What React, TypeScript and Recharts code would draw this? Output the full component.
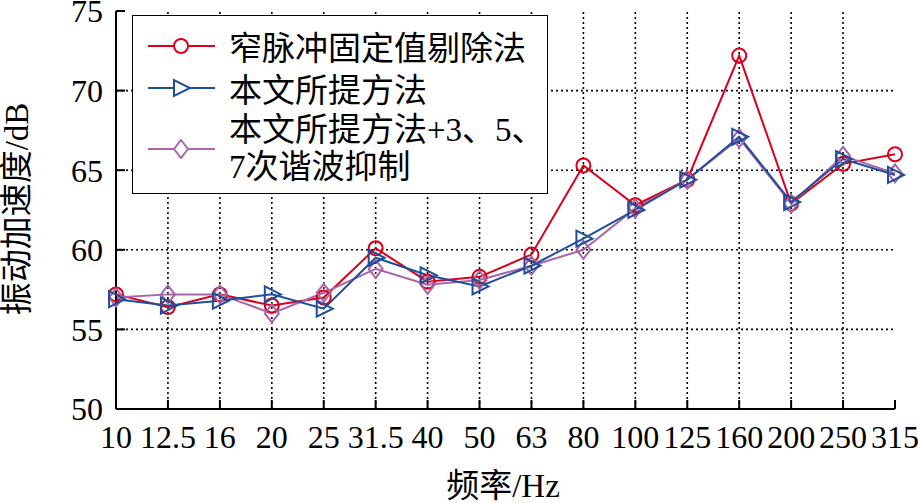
import { LineChart, Line, XAxis, YAxis, ReferenceLine, Label } from "recharts";

const categories = ["10", "12.5", "16", "20", "25", "31.5", "40", "50", "63", "80", "100", "125", "160", "200", "250", "315"];
const narrowPulse = [57.2, 56.4, 57.2, 56.5, 57.0, 60.1, 58.0, 58.3, 59.7, 65.3, 62.8, 64.4, 72.2, 62.9, 65.4, 66.0];
const proposed = [56.9, 56.5, 56.8, 57.2, 56.3, 59.5, 58.4, 57.7, 59.0, 60.7, 62.5, 64.4, 67.1, 63.0, 65.7, 64.7];
const proposedHarmonic = [57.0, 57.2, 57.2, 56.0, 57.3, 58.8, 57.8, 58.1, 59.0, 60.0, 62.6, 64.4, 67.0, 62.9, 65.9, 64.8];
const yTicks = [50, 55, 60, 65, 70, 75];

const RED = "#d9001b";
const BLUE = "#1f4e9c";
const PURPLE = "#a866a8";
const FONT = "'Liberation Serif', 'Times New Roman', 'Noto Sans CJK SC', serif";

const data = categories.map((f, i) => ({
  f,
  narrow: narrowPulse[i],
  proposed: proposed[i],
  harmonic: proposedHarmonic[i],
}));

function CircleDot({ cx, cy }: any) {
  if (cx == null || cy == null) return null;
  return <circle cx={cx} cy={cy} r={7} fill="none" stroke={RED} strokeWidth={2} />;
}

function TriangleDot({ cx, cy }: any) {
  if (cx == null || cy == null) return null;
  return (
    <polygon
      points={`${cx - 7},${cy - 8} ${cx - 7},${cy + 8} ${cx + 9},${cy}`}
      fill="none"
      stroke={BLUE}
      strokeWidth={2}
    />
  );
}

function DiamondDot({ cx, cy }: any) {
  if (cx == null || cy == null) return null;
  return (
    <polygon
      points={`${cx},${cy - 9} ${cx + 7},${cy} ${cx},${cy + 9} ${cx - 7},${cy}`}
      fill="none"
      stroke={PURPLE}
      strokeWidth={2}
    />
  );
}

function LegendMark({ color, kind }: { color: string; kind: string }) {
  const cx = 33;
  const cy = 10;
  return (
    <svg width={68} height={20} style={{ display: "block" }}>
      <line x1={0} y1={cy} x2={67} y2={cy} stroke={color} strokeWidth={2} />
      {kind === "circle" && <circle cx={cx} cy={cy} r={7} fill="white" stroke={color} strokeWidth={2} />}
      {kind === "triangle" && (
        <polygon points={`${cx - 7},${cy - 8} ${cx - 7},${cy + 8} ${cx + 9},${cy}`} fill="white" stroke={color} strokeWidth={2} />
      )}
      {kind === "diamond" && (
        <polygon points={`${cx},${cy - 9} ${cx + 7},${cy} ${cx},${cy + 9} ${cx - 7},${cy}`} fill="white" stroke={color} strokeWidth={2} />
      )}
    </svg>
  );
}

function LegendBox() {
  const row = { display: "flex", alignItems: "center", height: 42 } as const;
  const mark = { marginLeft: 15, marginRight: 13 };
  return (
    <div
      style={{
        position: "absolute",
        left: 132,
        top: 15,
        width: 414,
        height: 168,
        border: "1.5px solid #000",
        background: "#fff",
        fontFamily: FONT,
        fontSize: 33,
        color: "#000",
        paddingTop: 9,
      }}
    >
      <div style={row}>
        <div style={mark}><LegendMark color={RED} kind="circle" /></div>
        <span>窄脉冲固定值剔除法</span>
      </div>
      <div style={row}>
        <div style={mark}><LegendMark color={BLUE} kind="triangle" /></div>
        <span>本文所提方法</span>
      </div>
      <div style={{ display: "flex", alignItems: "center", height: 80 }}>
        <div style={mark}><LegendMark color={PURPLE} kind="diamond" /></div>
        <span style={{ lineHeight: "37px" }}>
          本文所提方法+3、5、
          <br />
          7次谐波抑制
        </span>
      </div>
    </div>
  );
}

const tickStyle = { fill: "#000", fontSize: 32, fontFamily: FONT };
const gridProps = { stroke: "#000", strokeDasharray: "2 3", strokeWidth: 1.6 };

export default function App() {
  return (
    <div style={{ position: "absolute", left: 0, top: 0, width: 918, height: 503, background: "#fff" }}>
      <LineChart width={918} height={503} data={data} margin={{ top: 11, right: 23, left: 0, bottom: 0 }}>
        {categories.slice(1, -1).map((c) => (
          <ReferenceLine key={"v" + c} x={c} {...gridProps} />
        ))}
        {yTicks.slice(1, -1).map((v) => (
          <ReferenceLine key={"h" + v} y={v} {...gridProps} />
        ))}
        <XAxis
          dataKey="f"
          height={94}
          interval={0}
          stroke="#000"
          strokeWidth={2}
          tickSize={-9}
          tickMargin={25}
          tick={tickStyle}
        >
          <Label
            content={() => (
              <text x={503} y={497} textAnchor="middle" fontSize={33} fontFamily={FONT} fill="#000">
                频率/Hz
              </text>
            )}
          />
        </XAxis>
        <XAxis
          dataKey="f"
          xAxisId="top"
          orientation="top"
          height={0}
          interval={0}
          stroke="#000"
          strokeWidth={2}
          tickSize={-9}
          tickFormatter={() => ""}
        />
        <YAxis
          width={116}
          domain={[50, 75]}
          ticks={yTicks}
          interval={0}
          stroke="#000"
          strokeWidth={2}
          tickSize={-9}
          tickMargin={22}
          tick={tickStyle}
        >
          <Label
            content={() => (
              <text
                x={28}
                y={209}
                textAnchor="middle"
                fontSize={33}
                fontFamily={FONT}
                fill="#000"
                transform="rotate(-90, 28, 209)"
              >
                振动加速度/dB
              </text>
            )}
          />
        </YAxis>
        <YAxis
          yAxisId="right"
          orientation="right"
          width={0}
          domain={[50, 75]}
          ticks={yTicks}
          stroke="#000"
          strokeWidth={2}
          tickSize={-9}
          tickFormatter={() => ""}
        />
        <Line
          dataKey="narrow"
          name="窄脉冲固定值剔除法"
          stroke={RED}
          strokeWidth={2}
          dot={<CircleDot />}
          isAnimationActive={false}
        />
        <Line
          dataKey="harmonic"
          name="本文所提方法+3、5、7次谐波抑制"
          stroke={PURPLE}
          strokeWidth={2}
          dot={<DiamondDot />}
          isAnimationActive={false}
        />
        <Line
          dataKey="proposed"
          name="本文所提方法"
          stroke={BLUE}
          strokeWidth={2}
          dot={<TriangleDot />}
          isAnimationActive={false}
        />
      </LineChart>
      <LegendBox />
    </div>
  );
}
